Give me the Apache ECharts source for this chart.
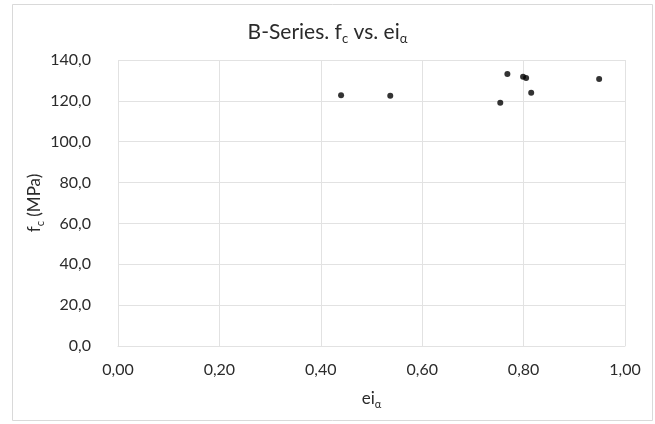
<!DOCTYPE html>
<html>
<head>
<meta charset="utf-8">
<script src="https://cdn.jsdelivr.net/npm/echarts@6/dist/echarts.min.js"></script>
<style>
  html, body { margin: 0; padding: 0; background: #fff; }
  #chart { width: 655px; height: 424px; }
</style>
</head>
<body>
<div id="chart"></div>
<script>
// B-series specimens: ei_alpha (x) against compressive strength f_c in MPa (y)
const eiAlpha = [0.440, 0.537, 0.754, 0.768, 0.799, 0.805, 0.815, 0.949];
const fc = [122.8, 122.5, 119.1, 133.1, 131.8, 131.2, 124.0, 130.7];

const xTicks = [0, 0.2, 0.4, 0.6, 0.8, 1.0];
const yTicks = [0, 20, 40, 60, 80, 100, 120, 140];

const points = eiAlpha.map((x, i) => [x, fc[i]]);

const FONT = 'Lato, "Open Sans", sans-serif';
const TEXT = '#2b2b2b';
const GRID = '#e2e2e2';

const chart = echarts.init(document.getElementById('chart'), null, { renderer: 'canvas' });

chart.setOption({
  backgroundColor: '#ffffff',
  animation: false,
  graphic: [{
    type: 'rect',
    shape: { x: 12.5, y: 4.5, width: 640, height: 416 },
    style: { fill: 'none', stroke: '#d9d9d9', lineWidth: 1 },
    silent: true
  }],
  title: {
    text: 'B-Series. f{sub|c} vs. ei{sub|α}',
    left: 'center',
    top: 14,
    textStyle: {
      fontFamily: FONT,
      fontSize: 21,
      fontWeight: 'normal',
      color: TEXT,
      rich: {
        sub: { fontFamily: FONT, fontSize: 13, color: TEXT, padding: [13, 0, 0, 0] }
      }
    }
  },
  grid: { left: 118, right: 30, top: 60, bottom: 78 },
  xAxis: {
    type: 'value',
    min: xTicks[0],
    max: xTicks[xTicks.length - 1],
    interval: 0.2,
    name: 'ei{sub|α}',
    nameLocation: 'middle',
    nameGap: 42,
    nameMoveOverlap: false,
    nameTextStyle: {
      fontFamily: FONT,
      fontSize: 17,
      color: TEXT,
      rich: {
        sub: { fontFamily: FONT, fontSize: 11, color: TEXT, padding: [11, 0, 0, 0] }
      }
    },
    axisLine: { show: true, lineStyle: { color: GRID } },
    axisTick: { show: false },
    splitLine: { show: true, lineStyle: { color: GRID, width: 1 } },
    axisLabel: {
      margin: 16,
      fontFamily: FONT,
      fontSize: 16,
      color: TEXT,
      formatter: v => v.toFixed(2).replace('.', ',')
    }
  },
  yAxis: {
    type: 'value',
    min: yTicks[0],
    max: yTicks[yTicks.length - 1],
    interval: 20,
    name: 'f{sub|c} (MPa)',
    nameLocation: 'middle',
    nameGap: 72,
    nameMoveOverlap: false,
    nameTextStyle: {
      fontFamily: FONT,
      fontSize: 17,
      color: TEXT,
      rich: {
        sub: { fontFamily: FONT, fontSize: 11, color: TEXT, padding: [11, 0, 0, 0] }
      }
    },
    axisLine: { show: false },
    axisTick: { show: false },
    splitLine: { show: true, lineStyle: { color: GRID, width: 1 } },
    axisLabel: {
      margin: 27,
      fontFamily: FONT,
      fontSize: 16,
      color: TEXT,
      formatter: v => v.toFixed(1).replace('.', ',')
    }
  },
  series: [{
    type: 'scatter',
    data: points,
    symbol: 'circle',
    symbolSize: 6,
    itemStyle: { color: '#000000' },
    silent: true
  }]
});
</script>
</body>
</html>
